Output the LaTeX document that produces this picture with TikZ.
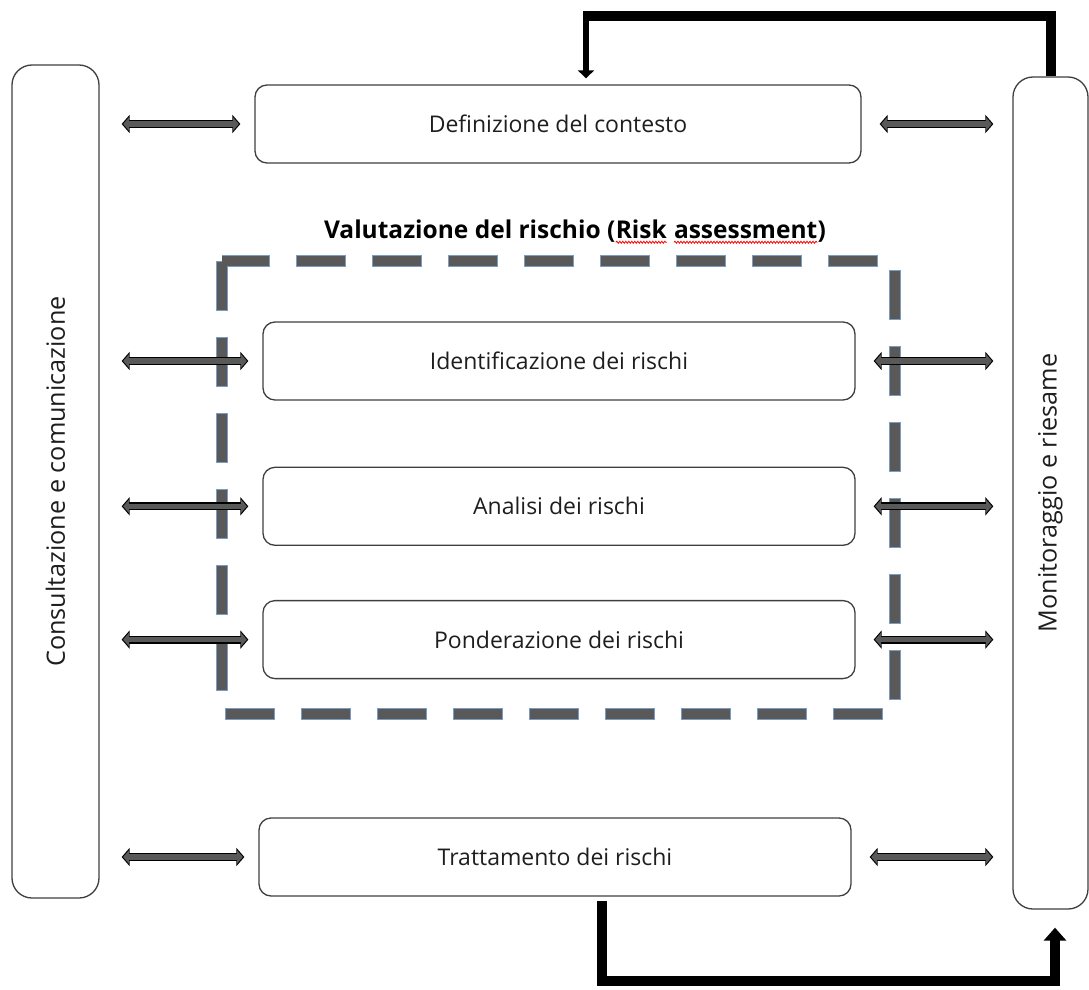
\documentclass[tikz,border=0pt]{standalone}
\usepackage{fontspec}
\setmainfont{Open Sans}
\usetikzlibrary{arrows.meta,positioning,decorations.pathmorphing}
\definecolor{arrgray}{HTML}{595959}
\definecolor{dashblue}{HTML}{7C9CC4}
\definecolor{boxline}{HTML}{3F3F3F}
\definecolor{txt}{HTML}{1E1E1E}
\newcommand{\squig}[1]{\tikz[baseline=(w.base)]{\node[inner sep=0pt,outer sep=0pt] (w) {#1};
  \draw[red, line width=0.8pt, decorate, decoration={snake, amplitude=1pt, segment length=3pt}] ([yshift=-3pt]w.south west) -- ([yshift=-3pt]w.south east);}}

\begin{document}
\begin{tikzpicture}[x=1pt, y=-1pt,
   box/.style={draw=boxline, line width=1.3pt, rounded corners=12pt, minimum width=592pt, minimum height=78pt, text=txt, font=\fontsize{23}{27}\selectfont},
   side/.style={draw=boxline, line width=1.3pt, rounded corners=20pt, minimum height=833pt},
   sidetext/.style={rotate=90, text=txt, font=\fontsize{25.2}{30}\selectfont},
   biarrow/.style={line width=8pt, black, {Triangle[length=8pt,width=18pt]}-{Triangle[length=8pt,width=18pt]},
      postaction={draw=arrgray, line width=5.4pt, {Triangle[length=6pt,width=13.5pt]}-{Triangle[length=6pt,width=13.5pt]}, shorten <=1.5pt, shorten >=1.5pt}},
   fb/.style={line width=10pt, black},
   dashbox/.style={line width=10pt, arrgray, dash pattern=on 48pt off 28pt, dash phase=75pt,
      preaction={draw=dashblue, line width=12.5pt, dash pattern=on 50pt off 26pt, dash phase=0pt}}
]
\useasboundingbox (0,0) rectangle (1089,990);

\node[side, minimum width=87pt, label={[sidetext]center:Consultazione e comunicazione}] (cons) at (55.5,481.5) {};
\node[side, minimum width=75pt, minimum height=832pt, label={[sidetext]center:Monitoraggio e riesame}] (mon) at (1050.5,493) {};

\node[box, minimum width=606pt] (def) at (558,124) {Definizione del contesto};
\node[box] (ident) at (559,361) {Identificazione dei rischi};
\node[box, below=66pt of ident] (anal) {Analisi dei rischi};
\node[box, below=54pt of anal] (pond) {Ponderazione dei rischi};
\node[box] (tratt) at (555,857) {Trattamento dei rischi};

\node[font=\fontsize{24.5}{29}\selectfont\bfseries] (valut) at (575,232) {Valutazione del rischio (\squig{Risk} \squig{assessment})};
\draw[dashbox] (222,261) rectangle (895,714);

\foreach \n in {def,ident,anal,pond,tratt}{
  \draw[biarrow] ([xshift=22pt]cons.east |- \n.west) -- ([xshift=-14pt]\n.west);
  \draw[biarrow] ([xshift=18pt]\n.east) -- ([xshift=-19pt]mon.west |- \n.east);
}

\coordinate (tc) at (586,16);
\draw[fb] (mon.north) |- ([xshift=-3pt]tc);
\draw[line width=6pt, -{Triangle[length=8pt,width=16pt]}] ([yshift=5pt]tc) -- ([yshift=6pt]def.north -| tc);
\draw[fb, -{Triangle[length=13pt,width=22pt]}] ([xshift=47pt,yshift=-4pt]tratt.south) -- ++(0,80) -| ([xshift=4.5pt,yshift=-18pt]mon.south);
\end{tikzpicture}
\end{document}
